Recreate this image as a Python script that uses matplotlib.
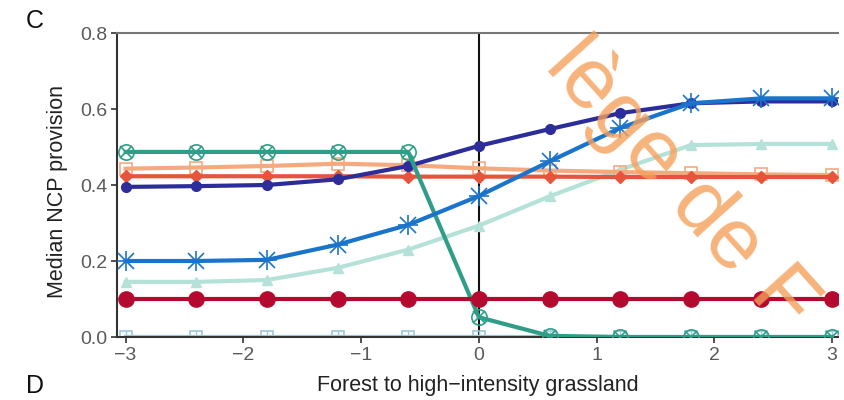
import matplotlib
matplotlib.use('Agg')
import matplotlib.pyplot as plt

plt.rcParams['font.family'] = ['Liberation Sans', 'DejaVu Sans']

# x positions along the land-use gradient
x = [-3, -2.4, -1.8, -1.2, -0.6, 0, 0.6, 1.2, 1.8, 2.4, 3]

# median NCP provision per series
navy_vals = [0.395, 0.397, 0.400, 0.415, 0.450, 0.503, 0.547, 0.589, 0.615, 0.620, 0.620]
blue_vals = [0.200, 0.200, 0.203, 0.243, 0.295, 0.371, 0.462, 0.550, 0.615, 0.628, 0.628]
lteal_vals = [0.145, 0.145, 0.150, 0.182, 0.230, 0.293, 0.370, 0.440, 0.505, 0.508, 0.508]
green_vals = [0.487, 0.487, 0.487, 0.487, 0.487, 0.052, 0.003, 0.0, 0.0, 0.0, 0.0]
lorange_vals = [0.443, 0.446, 0.450, 0.456, 0.452, 0.444, 0.438, 0.434, 0.431, 0.428, 0.426]
redor_vals = [0.423, 0.423, 0.423, 0.423, 0.422, 0.422, 0.422, 0.421, 0.421, 0.421, 0.421]
crimson_vals = [0.100, 0.100, 0.100, 0.100, 0.100, 0.100, 0.100, 0.100, 0.100, 0.100, 0.100]
lblue_vals = [0.0, 0.0, 0.0, 0.0, 0.0, 0.0, 0.0, 0.0, 0.0, 0.0, 0.0]

yticks = [0.0, 0.2, 0.4, 0.6, 0.8]
xticks = [-3, -2, -1, 0, 1, 2, 3]

fig = plt.figure(figsize=(8.44, 4), dpi=100)
ax = fig.add_axes([117/844, 63/400, (838-117)/844, 304/400])

lw = 3
# bottom layers first
ax.plot(x, lblue_vals, color='#9cc8d8', lw=lw, marker='s', ms=8, mfc='none', mew=1.2, zorder=2)
ax.plot(x, lblue_vals, color='#9cc8d8', lw=0, marker='|', ms=8, mew=1.0, zorder=2)
ax.plot(x, lteal_vals, color='#b5e2d8', lw=lw, marker='^', ms=7, zorder=3)
ax.plot(x, lorange_vals, color='#f6a97e', lw=lw, marker='s', ms=8, mfc='none', mew=1.2, zorder=4)
ax.plot(x, redor_vals, color='#e6553b', lw=lw, marker='D', ms=6, zorder=5)
ax.plot(x, navy_vals, color='#2d2c9b', lw=lw, marker='o', ms=7, zorder=6)
ax.plot(x, green_vals, color='#2f9e88', lw=lw, marker='o', ms=11, mfc='none', mew=1.2, zorder=7)
ax.plot(x, green_vals, color='#2f9e88', lw=0, marker='x', ms=8, mew=1.2, zorder=7)
ax.plot(x, crimson_vals, color='#b50a30', lw=lw, marker='o', ms=11, zorder=8)
ax.plot(x, blue_vals, color='#1b74cc', lw=lw, marker='+', ms=15, mew=1.2, zorder=9)
ax.plot(x, blue_vals, color='#1b74cc', lw=0, marker='x', ms=11, mew=1.2, zorder=9)

ax.axvline(0, color='#111111', lw=1.5, zorder=1)

ax.set_xlim(-3.073, 3.05)
ax.set_ylim(0, 0.8)
ax.set_xticks(xticks)
ax.set_xticklabels(['\u22123', '\u22122', '\u22121', '0', '1', '2', '3'])
ax.set_yticks(yticks)
ax.set_yticklabels(['0.0', '0.2', '0.4', '0.6', '0.8'])
ax.tick_params(direction='out', length=4, width=1.2, color='#333333',
               labelcolor='#5a5a5a', labelsize=14, pad=3)

ax.spines['right'].set_visible(False)
ax.spines['top'].set_color('#777777')
ax.spines['left'].set_color('#333333')
ax.spines['bottom'].set_color('#333333')
for s in ['top', 'left', 'bottom']:
    ax.spines[s].set_linewidth(1.5)

ax.set_xlabel('Forest to high\u2212intensity grassland', fontsize=15.5, color='#222222')
ax.xaxis.set_label_coords(0.5, -0.125)
ax.set_ylabel('Median NCP provision', fontsize=15.5, color='#222222')
ax.yaxis.set_label_coords(-0.068, 0.48)

fig.text(35/844, 1 - 21/400, 'C', fontsize=18, ha='center', va='center', color='#111111')
fig.text(35/844, 1 - 386/400, 'D', fontsize=18, ha='center', va='center', color='#111111')

# watermark (only the part visible in the reference)
fig.text(680/844, 1 - 185/400, 'l\u00e8ge de F', fontsize=62, rotation=-48,
         ha='center', va='center', color='#f5a05a', alpha=0.8, zorder=20,
         rotation_mode='anchor')

fig.savefig('out.png', dpi=100)
